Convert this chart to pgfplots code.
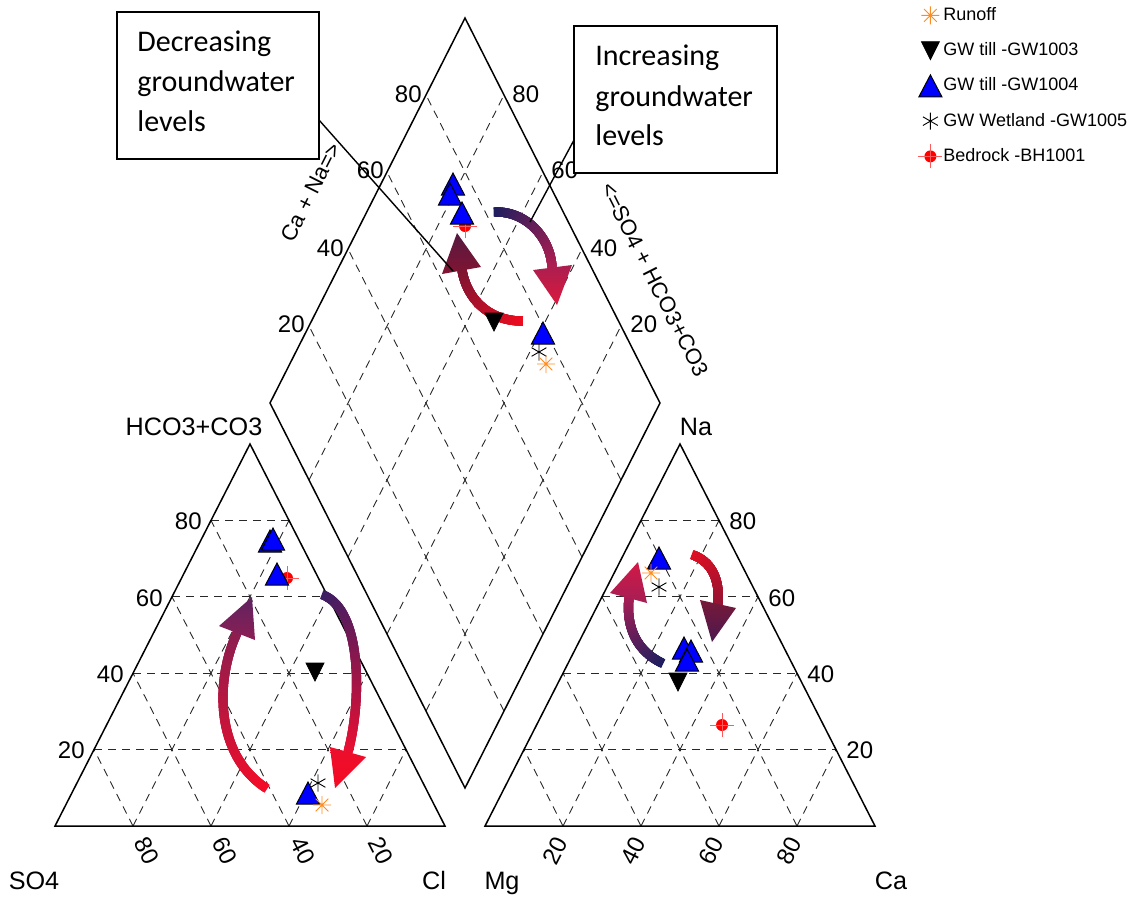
\documentclass[border=0pt]{standalone}
\usepackage{pgfplots}
\pgfplotsset{compat=1.18}
\usepackage{fontspec}
\setmainfont{Liberation Sans}
\newfontfamily\boxfont{Carlito}
\usetikzlibrary{decorations.markings}

\definecolor{runoffc}{RGB}{255,140,30}
\definecolor{gwblue}{RGB}{0,0,255}
\definecolor{bedred}{RGB}{255,0,0}
\definecolor{bedcross}{RGB}{255,90,90}
\definecolor{gridc}{RGB}{40,40,40}
% arrow colours
\definecolor{aOneS}{RGB}{240,12,30}
\definecolor{aOneE}{RGB}{125,20,50}
\definecolor{aOneHt}{RGB}{85,25,65}
\definecolor{aOneHb}{RGB}{130,20,50}
\definecolor{aTwoS}{RGB}{30,30,95}
\definecolor{aTwoE}{RGB}{175,30,80}
\definecolor{aTwoHt}{RGB}{170,30,80}
\definecolor{aTwoHb}{RGB}{220,25,60}
\definecolor{aThrS}{RGB}{245,12,40}
\definecolor{aThrE}{RGB}{140,30,80}
\definecolor{aThrHt}{RGB}{95,35,95}
\definecolor{aThrHb}{RGB}{140,30,85}
\definecolor{aFouS}{RGB}{60,30,100}
\definecolor{aFouE}{RGB}{235,15,50}
\definecolor{aFouHt}{RGB}{235,15,45}
\definecolor{aFouHb}{RGB}{245,10,35}
\definecolor{aFivS}{RGB}{30,30,95}
\definecolor{aFivE}{RGB}{165,30,85}
\definecolor{aFivHt}{RGB}{210,25,70}
\definecolor{aFivHb}{RGB}{165,30,85}
\definecolor{aSixS}{RGB}{225,15,35}
\definecolor{aSixE}{RGB}{150,20,50}
\definecolor{aSixHt}{RGB}{120,25,55}
\definecolor{aSixHb}{RGB}{75,25,80}

\newcommand\tickfont{\fontsize{12}{14}\selectfont}
\newcommand\cornerfont{\fontsize{12.6}{15}\selectfont}
\newcommand\titlefont{\fontsize{11}{13}\selectfont}
\newcommand\boxfs{\boxfont\fontsize{15}{20}\selectfont}
\newcommand\legfont{\fontsize{9}{11}\selectfont}

\pgfdeclareplotmark{star8}{%
  \pgfpathmoveto{\pgfqpoint{-\pgfplotmarksize}{0pt}}%
  \pgfpathlineto{\pgfqpoint{\pgfplotmarksize}{0pt}}%
  \pgfpathmoveto{\pgfqpoint{0pt}{-\pgfplotmarksize}}%
  \pgfpathlineto{\pgfqpoint{0pt}{\pgfplotmarksize}}%
  \pgfpathmoveto{\pgfqpoint{-0.707\pgfplotmarksize}{-0.707\pgfplotmarksize}}%
  \pgfpathlineto{\pgfqpoint{0.707\pgfplotmarksize}{0.707\pgfplotmarksize}}%
  \pgfpathmoveto{\pgfqpoint{-0.707\pgfplotmarksize}{0.707\pgfplotmarksize}}%
  \pgfpathlineto{\pgfqpoint{0.707\pgfplotmarksize}{-0.707\pgfplotmarksize}}%
  \pgfusepathqstroke}
\pgfdeclareplotmark{tup}{%
  \pgfpathmoveto{\pgfqpoint{0pt}{\pgfplotmarksize}}%
  \pgfpathlineto{\pgfqpoint{1.05\pgfplotmarksize}{-\pgfplotmarksize}}%
  \pgfpathlineto{\pgfqpoint{-1.05\pgfplotmarksize}{-\pgfplotmarksize}}%
  \pgfpathclose\pgfusepathqfillstroke}
\pgfdeclareplotmark{tdown}{%
  \pgfpathmoveto{\pgfqpoint{0pt}{-\pgfplotmarksize}}%
  \pgfpathlineto{\pgfqpoint{1.0\pgfplotmarksize}{\pgfplotmarksize}}%
  \pgfpathlineto{\pgfqpoint{-1.0\pgfplotmarksize}{\pgfplotmarksize}}%
  \pgfpathclose\pgfusepathqfillstroke}
\pgfdeclareplotmark{bedrock}{%
  \pgfpathcircle{\pgfpointorigin}{0.5\pgfplotmarksize}\pgfusepathqfill
  \pgfsetstrokecolor{bedcross}%
  \pgfpathmoveto{\pgfqpoint{-\pgfplotmarksize}{0pt}}%
  \pgfpathlineto{\pgfqpoint{\pgfplotmarksize}{0pt}}%
  \pgfpathmoveto{\pgfqpoint{0pt}{-\pgfplotmarksize}}%
  \pgfpathlineto{\pgfqpoint{0pt}{\pgfplotmarksize}}%
  \pgfusepathqstroke}

\tikzset{
  gridd/.style={dash pattern=on 4pt off 3pt, line width=0.45pt, gridc},
  edge/.style={line width=0.75pt, black},
  gradshaft/.style n args={2}{postaction={decorate}, decoration={markings,
     mark=between positions 0 and 1 step 0.005 with {%
       \pgfmathtruncatemacro\pc{(\pgfkeysvalueof{/pgf/decoration/mark info/sequence number}-1)/2}%
       \fill[#2!\pc!#1] (-0.7pt,-2.3pt) rectangle (0.7pt,2.3pt);}}},
}

\begin{document}
\begin{tikzpicture}
\begin{axis}[
  at={(0,0)}, anchor=south west,
  scale only axis, width=572.5pt, height=448pt,
  xmin=0, xmax=1145, ymin=0, ymax=896, y dir=reverse,
  hide axis, clip=false,
  legend style={at={(axis cs:918,7)}, anchor=north west, draw=none, fill=none,
    inner sep=0pt, font=\legfont, row sep=9.6pt, column sep=0.5pt,
    cells={anchor=west}, nodes={inner sep=0pt}},
  legend image code/.code={%
    \begin{pgfinterruptboundingbox}
    \draw[#1, mark repeat=1] plot coordinates {(6pt,0pt)};
    \end{pgfinterruptboundingbox}
    \path[draw=none, fill=none] (0pt,-3pt) rectangle (12pt,3pt);},
]
% ---------- grids ----------
% left triangle
\draw[gridd] (axis cs:94,749.6) -- (axis cs:406,749.6);
\draw[gridd] (axis cs:133,673.2) -- (axis cs:367,673.2);
\draw[gridd] (axis cs:172,596.8) -- (axis cs:328,596.8);
\draw[gridd] (axis cs:211,520.4) -- (axis cs:289,520.4);
\draw[gridd] (axis cs:133,826) -- (axis cs:289,520.4);
\draw[gridd] (axis cs:211,826) -- (axis cs:328,596.8);
\draw[gridd] (axis cs:289,826) -- (axis cs:367,673.2);
\draw[gridd] (axis cs:367,826) -- (axis cs:406,749.6);
\draw[gridd] (axis cs:133,826) -- (axis cs:94,749.6);
\draw[gridd] (axis cs:211,826) -- (axis cs:133,673.2);
\draw[gridd] (axis cs:289,826) -- (axis cs:172,596.8);
\draw[gridd] (axis cs:367,826) -- (axis cs:211,520.4);
% right triangle
\draw[gridd] (axis cs:524,749.6) -- (axis cs:836,749.6);
\draw[gridd] (axis cs:563,673.2) -- (axis cs:797,673.2);
\draw[gridd] (axis cs:602,596.8) -- (axis cs:758,596.8);
\draw[gridd] (axis cs:641,520.4) -- (axis cs:719,520.4);
\draw[gridd] (axis cs:563,826) -- (axis cs:719,520.4);
\draw[gridd] (axis cs:641,826) -- (axis cs:758,596.8);
\draw[gridd] (axis cs:719,826) -- (axis cs:797,673.2);
\draw[gridd] (axis cs:797,826) -- (axis cs:836,749.6);
\draw[gridd] (axis cs:563,826) -- (axis cs:524,749.6);
\draw[gridd] (axis cs:641,826) -- (axis cs:563,673.2);
\draw[gridd] (axis cs:719,826) -- (axis cs:602,596.8);
\draw[gridd] (axis cs:797,826) -- (axis cs:641,520.4);
% diamond
\draw[gridd] (axis cs:309,480) -- (axis cs:504,95);
\draw[gridd] (axis cs:348,557) -- (axis cs:543,172);
\draw[gridd] (axis cs:387,634) -- (axis cs:582,249);
\draw[gridd] (axis cs:426,711) -- (axis cs:621,326);
\draw[gridd] (axis cs:621,480) -- (axis cs:426,95);
\draw[gridd] (axis cs:582,557) -- (axis cs:387,172);
\draw[gridd] (axis cs:543,634) -- (axis cs:348,249);
\draw[gridd] (axis cs:504,711) -- (axis cs:309,326);
% ---------- outlines ----------
\draw[edge] (axis cs:55,826) -- (axis cs:445,826) -- (axis cs:250,444) -- cycle;
\draw[edge] (axis cs:485,826) -- (axis cs:875,826) -- (axis cs:680,444) -- cycle;
\draw[edge] (axis cs:465,18) -- (axis cs:660,403) -- (axis cs:465,788) -- (axis cs:270,403) -- cycle;
% ---------- tick labels ----------
\begin{scope}[every node/.style={font=\tickfont, inner sep=0pt}]
\node[anchor=east] at (axis cs:202,521) {80};
\node[anchor=east] at (axis cs:163,598) {60};
\node[anchor=east] at (axis cs:124,674) {40};
\node[anchor=east] at (axis cs:85,750) {20};
\node[anchor=west] at (axis cs:729,521) {80};
\node[anchor=west] at (axis cs:768,598) {60};
\node[anchor=west] at (axis cs:807,674) {40};
\node[anchor=west] at (axis cs:846,750) {20};
\node[anchor=east] at (axis cs:422,94) {80};
\node[anchor=east] at (axis cs:384,170) {60};
\node[anchor=east] at (axis cs:344,248) {40};
\node[anchor=east] at (axis cs:305,324) {20};
\node[anchor=west] at (axis cs:512,94) {80};
\node[anchor=west] at (axis cs:551,170) {60};
\node[anchor=west] at (axis cs:590,248) {40};
\node[anchor=west] at (axis cs:630,324) {20};
\node[rotate=-63] at (axis cs:147,851) {80};
\node[rotate=-63] at (axis cs:225,851) {60};
\node[rotate=-63] at (axis cs:303,851) {40};
\node[rotate=-63] at (axis cs:381,851) {20};
\node[rotate=63] at (axis cs:555,851) {20};
\node[rotate=63] at (axis cs:633,851) {40};
\node[rotate=63] at (axis cs:711,851) {60};
\node[rotate=63] at (axis cs:789,851) {80};
\end{scope}
% ---------- axis names ----------
\begin{scope}[every node/.style={font=\cornerfont, inner sep=0pt, anchor=base}]
\node at (axis cs:34,889) {SO4};
\node at (axis cs:434,889) {Cl};
\node at (axis cs:502,889) {Mg};
\node at (axis cs:891,889) {Ca};
\node at (axis cs:194,435) {HCO3+CO3};
\node at (axis cs:696,435) {Na};
\end{scope}
\node[font=\titlefont, inner sep=0pt, rotate=63.2] at (axis cs:311,192) {Ca + Na=>};
\node[font=\titlefont, inner sep=0pt, rotate=-63.2] at (axis cs:655,280) {<=SO4 + HCO3+CO3};
% ---------- data ----------
\addplot[forget plot, only marks, mark=bedrock, mark size=6pt, color=bedred, line width=0.4pt]
  coordinates {(465,226) (287,578) (722,725)};
\addplot[forget plot, only marks, mark=tdown, mark size=4.5pt, color=black, line width=0.4pt]
  coordinates {(494,322) (315,672) (678,682)};
\addplot[forget plot, only marks, mark=tup, mark size=5.5pt, mark options={fill=gwblue, draw=black, line width=0.5pt}]
  coordinates {(453,184) (450,194) (462,213) (543,333)
               (270,541) (273,539) (277,574) (308,793)
               (659,558) (684,648) (691,651) (687,660)};
\addplot[forget plot, only marks, mark=asterisk, mark size=4.3pt, color=black, line width=0.45pt]
  coordinates {(539,352) (318,783) (659,587)};
\addplot[forget plot, only marks, mark=star8, mark size=4.5pt, color=runoffc, line width=0.45pt]
  coordinates {(546,364) (322,805) (651,573)};
% legend
\addlegendimage{only marks, mark=star8, mark size=4.5pt, color=runoffc, line width=0.45pt}
\addlegendentry{Runoff}
\addlegendimage{only marks, mark=tdown, mark size=4.5pt, color=black, line width=0.4pt}
\addlegendentry{GW till -GW1003}
\addlegendimage{only marks, mark=tup, mark size=5.5pt, mark options={fill=gwblue, draw=black, line width=0.5pt}}
\addlegendentry{GW till -GW1004}
\addlegendimage{only marks, mark=asterisk, mark size=4.3pt, color=black, line width=0.45pt}
\addlegendentry{GW Wetland -GW1005}
\addlegendimage{only marks, mark=bedrock, mark size=6pt, color=bedred, line width=0.4pt}
\addlegendentry{Bedrock -BH1001}
% ---------- arrows ----------
\path[gradshaft={aOneS}{aOneE}] (axis cs:522,321) .. controls (axis cs:490,321) and (axis cs:467,300) .. (axis cs:462,270);
\shade[top color=aOneHt, bottom color=aOneHb] (axis cs:457,233) -- (axis cs:442,274) -- (axis cs:481,267) -- cycle;
\path[gradshaft={aTwoS}{aTwoE}] (axis cs:495,212) .. controls (axis cs:525,211) and (axis cs:550,236) .. (axis cs:552,267);
\shade[top color=aTwoHt, bottom color=aTwoHb] (axis cs:533,270) -- (axis cs:572,265) -- (axis cs:557,305) -- cycle;
\path[gradshaft={aThrS}{aThrE}] (axis cs:266,788) .. controls (axis cs:215,755) and (axis cs:215,680) .. (axis cs:237,633);
\shade[top color=aThrHt, bottom color=aThrHb] (axis cs:219,626) -- (axis cs:255,640) -- (axis cs:252,597) -- cycle;
\path[gradshaft={aFouS}{aFouE}] (axis cs:323,595) .. controls (axis cs:362,610) and (axis cs:362,700) .. (axis cs:348,752);
\shade[top color=aFouHt, bottom color=aFouHb] (axis cs:330,747) -- (axis cs:366,757) -- (axis cs:335,788) -- cycle;
\path[gradshaft={aFivS}{aFivE}] (axis cs:662,663) .. controls (axis cs:635,650) and (axis cs:626,625) .. (axis cs:629,598);
\shade[top color=aFivHt, bottom color=aFivHb] (axis cs:610,593) -- (axis cs:647,603) -- (axis cs:638,562) -- cycle;
\path[gradshaft={aSixS}{aSixE}] (axis cs:693,555) .. controls (axis cs:712,562) and (axis cs:720,580) .. (axis cs:718,604);
\shade[top color=aSixHt, bottom color=aSixHb] (axis cs:700,600) -- (axis cs:736,608) -- (axis cs:712,642) -- cycle;
% ---------- annotation boxes ----------
\draw[line width=0.7pt] (axis cs:319,120) -- (axis cs:453,271);
\draw[line width=0.7pt] (axis cs:574,140) -- (axis cs:530,222);
\draw[line width=0.65pt, fill=white] (axis cs:117,12) rectangle (axis cs:319,159);
\draw[line width=0.65pt, fill=white] (axis cs:574,26) rectangle (axis cs:777,173);
\begin{scope}[every node/.style={font=\boxfs, inner sep=0pt, anchor=base west}]
\node at (axis cs:137,51) {Decreasing};
\node at (axis cs:137,91) {groundwater};
\node at (axis cs:137,131) {levels};
\node at (axis cs:595,65) {Increasing};
\node at (axis cs:595,106) {groundwater};
\node at (axis cs:595,145) {levels};
\end{scope}
\end{axis}
\pgfresetboundingbox
\path[use as bounding box] (0,0) rectangle (572.5pt,448pt);
\end{tikzpicture}
\end{document}
